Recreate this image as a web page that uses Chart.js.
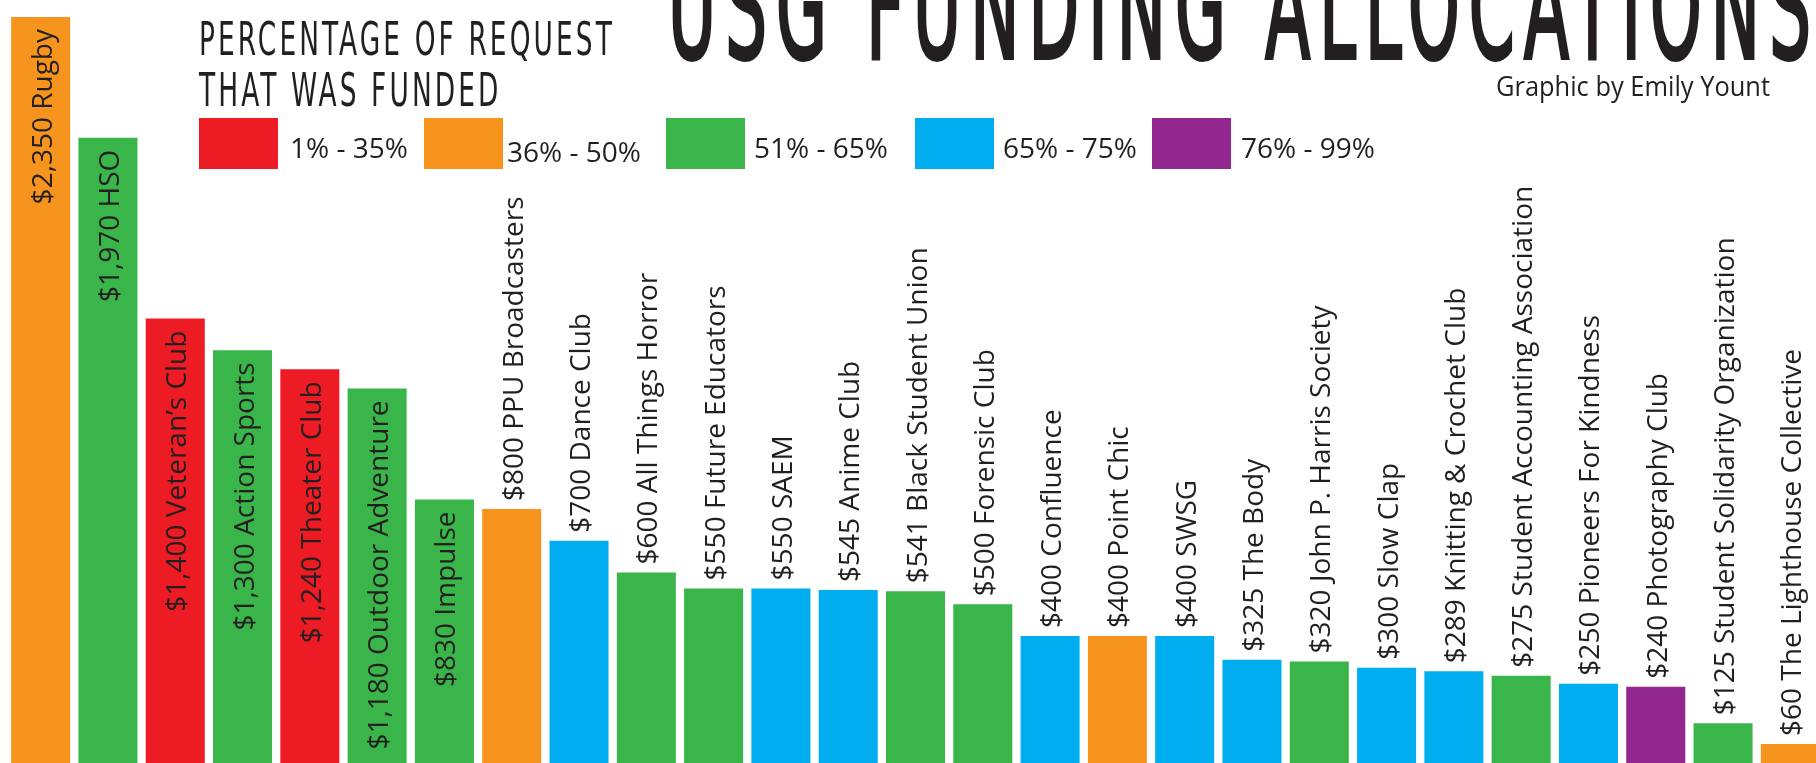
<!DOCTYPE html>
<html>
<head>
<meta charset="utf-8">
<title>USG Funding Allocations</title>
<script src="https://cdn.jsdelivr.net/npm/chart.js@4"></script>
<style>
  html, body { margin: 0; padding: 0; background: #fff; overflow: hidden; }
  canvas { display: block; }
</style>
</head>
<body>
<canvas id="fundChart" width="1830" height="763"></canvas>
<script>
// data
const clubs = ['Rugby', 'HSO', 'Veteran\u2019s Club', 'Action Sports', 'Theater Club',
  'Outdoor Adventure', 'Impulse', 'PPU Broadcasters', 'Dance Club', 'All Things Horror',
  'Future Educators', 'SAEM', 'Anime Club', 'Black Student Union', 'Forensic Club',
  'Confluence', 'Point Chic', 'SWSG', 'The Body', 'John P. Harris Society', 'Slow Clap',
  'Knitting & Crochet Club', 'Student Accounting Association', 'Pioneers For Kindness',
  'Photography Club', 'Student Solidarity Organization', 'The Lighthouse Collective'];
const funded = [2350, 1970, 1400, 1300, 1240, 1180, 830, 800, 700, 600,
  550, 550, 545, 541, 500, 400, 400, 400, 325, 320, 300,
  289, 275, 250, 240, 125, 60];
// index into tierLabels for each club
const tier = [1, 2, 0, 2, 0, 2, 2, 1, 3, 2,
  2, 3, 3, 2, 2, 3, 1, 3, 3, 2, 3,
  3, 2, 3, 4, 2, 1];
const tierLabels = ['1% - 35%', '36% - 50%', '51% - 65%', '65% - 75%', '76% - 99%'];
const tierColors = ['#ed1c24', '#f7941d', '#39b54a', '#00aeef', '#92278f'];

const textColor = '#231f20';
const money = v => '$' + v.toLocaleString('en-US');

// labels written up the bars
const barLabels = {
  id: 'barLabels',
  afterDatasetsDraw(chart) {
    const ctx = chart.ctx;
    const meta = chart.getDatasetMeta(0);
    ctx.save();
    ctx.font = '28px "Open Sans"';
    ctx.fillStyle = textColor;
    ctx.textBaseline = 'alphabetic';
    meta.data.forEach((bar, i) => {
      const text = money(funded[i]) + ' ' + clubs[i];
      const inside = funded[i] >= 830;
      ctx.save();
      ctx.translate(bar.x + 11, inside ? bar.y + 12 : bar.y - 8);
      ctx.rotate(-Math.PI / 2);
      ctx.textAlign = inside ? 'right' : 'left';
      ctx.fillText(text, 0, 0);
      ctx.restore();
    });
    ctx.restore();
  }
};

// heading, credit and colour key
function fitText(ctx, text, x, y, width, stroke) {
  const w = ctx.measureText(text).width;
  ctx.save();
  ctx.translate(x, y);
  ctx.scale(width / w, 1);
  ctx.fillText(text, 0, 0);
  if (stroke) {
    ctx.strokeStyle = ctx.fillStyle;
    ctx.lineWidth = stroke;
    ctx.strokeText(text, 0, 0);
  }
  ctx.restore();
  return width / w;
}

const decor = {
  id: 'decor',
  afterDraw(chart) {
    const ctx = chart.ctx;
    ctx.save();
    ctx.fillStyle = textColor;
    ctx.textAlign = 'left';
    ctx.textBaseline = 'alphabetic';

    ctx.letterSpacing = '18px';
    ctx.font = '144px "DejaVu Sans Condensed", "DejaVu Sans"';
    fitText(ctx, 'USG FUNDING ALLOCATIONS', 668, 58, 1152, 4);

    ctx.letterSpacing = '5px';
    ctx.font = '47px "DejaVu Sans Condensed", "DejaVu Sans"';
    const sx = fitText(ctx, 'PERCENTAGE OF REQUEST', 199, 55, 416);
    ctx.save();
    ctx.translate(199, 106);
    ctx.scale(sx, 1);
    ctx.fillText('THAT WAS FUNDED', 0, 0);
    ctx.restore();
    ctx.letterSpacing = '0px';

    ctx.font = '28px "Open Sans"';
    fitText(ctx, 'Graphic by Emily Yount', 1496, 96, 274);

    // key
    const boxX = [199, 424, 666, 915, 1152];
    const textX = [290, 507, 754, 1003, 1241];
    const textY = [158, 162, 158, 158, 158];
    ctx.font = '28px "Open Sans"';
    tierLabels.forEach((lab, i) => {
      ctx.fillStyle = tierColors[i];
      ctx.fillRect(boxX[i], 118, 79, 51);
      ctx.fillStyle = textColor;
      ctx.fillText(lab, textX[i], textY[i]);
    });
    ctx.restore();
  }
};

const fundChart = new Chart(document.getElementById('fundChart').getContext('2d'), {
  type: 'bar',
  data: {
    labels: clubs,
    datasets: [{
      data: funded,
      backgroundColor: tier.map(t => tierColors[t]),
      borderWidth: 0,
      barPercentage: 0.877,
      categoryPercentage: 1
    }]
  },
  options: {
    responsive: false,
    animation: false,
    devicePixelRatio: 1,
    layout: { padding: { left: 7, right: 6, top: 17, bottom: 0 } },
    scales: {
      x: { display: false },
      y: { display: false, min: 0, max: 2350 }
    },
    plugins: {
      legend: { display: false },
      tooltip: { enabled: false }
    }
  },
  plugins: [barLabels, decor]
});
</script>
</body>
</html>
